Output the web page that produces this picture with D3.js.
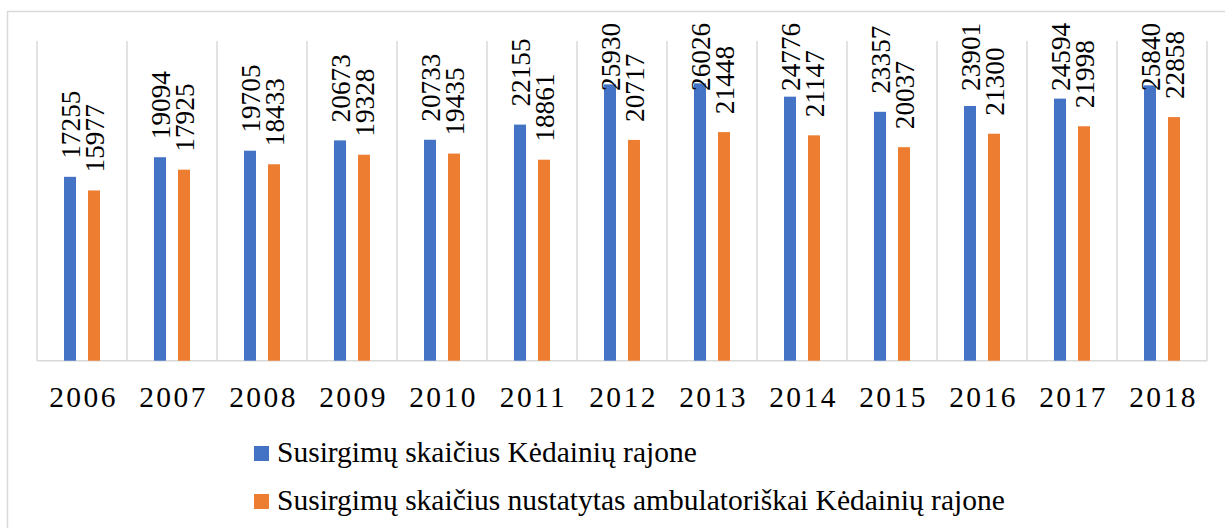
<!DOCTYPE html>
<html><head><meta charset="utf-8">
<script src="https://cdn.jsdelivr.net/npm/d3@7"></script>
<style>
html,body{margin:0;padding:0;background:#fff;}
svg{display:block;}
</style></head>
<body>
<svg id="c" width="1225" height="528"></svg>
<script>
const years = ["2006","2007","2008","2009","2010","2011","2012","2013","2014","2015","2016","2017","2018"];
const totalCases = [17255,19094,19705,20673,20733,22155,25930,26026,24776,23357,23901,24594,25840];
const outpatientCases = [15977,17925,18433,19328,19435,18861,20717,21448,21147,20037,21300,21998,22858];
const seriesNames = ["Susirgimų skaičius Kėdainių rajone","Susirgimų skaičius nustatytas ambulatoriškai Kėdainių rajone"];
const colors = ["#4472C4","#ED7D31"];

(function(){
const FF = '"Liberation Serif"';
const svg = d3.select("#c");
// outer chart border
svg.append("rect").attr("x",7.5).attr("y",11.5).attr("width",1240).attr("height",540)
  .attr("fill","#fff").attr("stroke","#d9d9d9").attr("stroke-width",1.5);

const pLeft = 37, pRight = 1207, pTop = 41, base = 360.7;
const x = d3.scaleBand().domain(years).range([pLeft,pRight]).padding(0);
const y = d3.scaleLinear().domain([0,30000]).range([base,pTop]);
const barW = x.bandwidth()*12/90;
const offs = [x.bandwidth()*27/90, x.bandwidth()*51/90];

// vertical gridlines at category boundaries
const bounds = years.map(d=>x(d)).concat([pRight]);
svg.append("g").selectAll("line").data(bounds).join("line")
  .attr("x1",d=>d).attr("x2",d=>d).attr("y1",pTop).attr("y2",base)
  .attr("stroke","#d9d9d9").attr("stroke-width",1.5);
// baseline
svg.append("line").attr("x1",pLeft).attr("x2",pRight).attr("y1",base).attr("y2",base)
  .attr("stroke","#d9d9d9").attr("stroke-width",1.5);

const series = [totalCases, outpatientCases];
series.forEach((vals,si)=>{
  const g = svg.append("g");
  g.selectAll("rect").data(vals).join("rect")
    .attr("x",(d,i)=>x(years[i])+offs[si])
    .attr("width",barW)
    .attr("y",d=>y(d))
    .attr("height",d=>base-y(d))
    .attr("fill",colors[si]);
  g.selectAll("text").data(vals).join("text")
    .attr("transform",(d,i)=>{
      const cx = x(years[i])+offs[si]+barW/2;
      const by = Math.max(y(d)-18, 91);
      return `translate(${cx},${by}) rotate(-90)`;
    })
    .attr("dy","0.35em")
    .style("font-family",FF)
    .attr("font-size",27.3)
    .attr("fill","#000")
    .text(d=>d);
});

// x axis labels
svg.append("g").selectAll("text").data(years).join("text")
  .attr("x",d=>x(d)+x.bandwidth()/2+1.5)
  .attr("y",407.3)
  .attr("text-anchor","middle")
  .style("font-family",FF)
  .attr("font-size",29.5)
  .attr("letter-spacing","2.4px")
  .attr("fill","#000")
  .text(d=>d);

// legend
const leg = svg.append("g");
seriesNames.forEach((n,i)=>{
  leg.append("rect").attr("x",254).attr("y",[446,494][i]).attr("width",15).attr("height",15).attr("fill",colors[i]);
  leg.append("text").attr("x",277).attr("y",[462,510][i]).style("font-family",FF).attr("font-size",29.5).attr("fill","#000").text(n);
});
})();
</script>
</body></html>
